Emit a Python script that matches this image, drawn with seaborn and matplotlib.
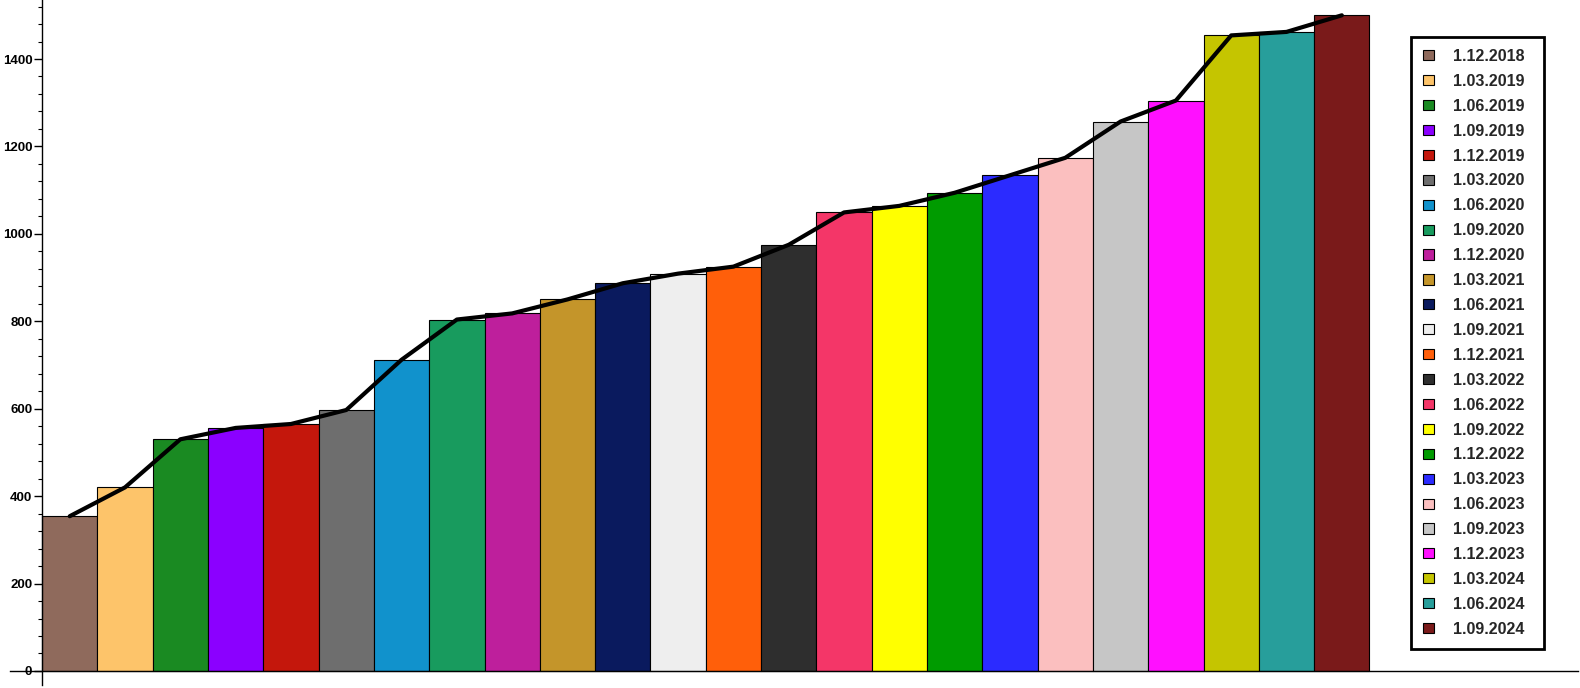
import numpy as np
import pandas as pd
import matplotlib
matplotlib.use("Agg")
import matplotlib.pyplot as plt
import seaborn as sns
from matplotlib.ticker import MultipleLocator

# Datoer (kvartaler) og værdier
dates = [
    "1.12.2018", "1.03.2019", "1.06.2019", "1.09.2019", "1.12.2019",
    "1.03.2020", "1.06.2020", "1.09.2020", "1.12.2020", "1.03.2021",
    "1.06.2021", "1.09.2021", "1.12.2021", "1.03.2022", "1.06.2022",
    "1.09.2022", "1.12.2022", "1.03.2023", "1.06.2023", "1.09.2023",
    "1.12.2023", "1.03.2024", "1.06.2024", "1.09.2024",
]
values = [
    354, 420, 530, 556, 565,
    597, 712, 804, 818, 850,
    887, 909, 925, 975, 1049,
    1064, 1094, 1134, 1174, 1257,
    1305, 1454, 1462, 1500,
]
colors = [
    "#8f6a5c", "#fdc46a", "#1a8a22", "#8b00ff", "#c4170c",
    "#6e6e6e", "#1192cc", "#189b5e", "#be1f9c", "#c4952a",
    "#0a1a5e", "#eeeeee", "#ff5f0a", "#2e2e2e", "#f43668",
    "#ffff00", "#009b00", "#2b2bff", "#fbbfbf", "#c6c6c6",
    "#ff10ff", "#c5c500", "#279e9b", "#7a1a1a",
]

sns.set_style("white")
plt.rcParams["font.family"] = ["Liberation Sans", "DejaVu Sans"]

df = pd.DataFrame({"date": dates, "value": values})

fig = plt.figure(figsize=(15.8, 6.88), dpi=100)
ax = fig.add_axes([10 / 1580, 0, 1568 / 1580, 1])

sns.barplot(
    data=df, x="date", y="value", hue="date", palette=colors,
    dodge=False, width=1.0, saturation=1, edgecolor="black",
    linewidth=0.8, ax=ax, legend=True,
)
# Kurve gennem søjlernes toppe
sns.lineplot(x=np.arange(len(values)), y=values, color="black",
             linewidth=3, ax=ax, legend=False)

ax.set_xlim(-1.08, 27.27)
ax.set_ylim(-39, 1535)
ax.set_xticks([])
ax.set_xlabel("")
ax.set_ylabel("")

for side in ["top", "right"]:
    ax.spines[side].set_visible(False)
ax.spines["left"].set_position(("data", -0.5))
ax.spines["left"].set_bounds(-32, 1535)
ax.spines["bottom"].set_position(("data", 0))
for side in ["left", "bottom"]:
    ax.spines[side].set_color("black")
    ax.spines[side].set_linewidth(1)

ax.yaxis.set_major_locator(MultipleLocator(200))
ax.yaxis.set_minor_locator(MultipleLocator(40))
ax.tick_params(axis="y", which="major", left=True, length=6, width=1,
               direction="out", labelsize=9.5, pad=1, colors="black")
ax.tick_params(axis="y", which="minor", left=True, length=3, width=0.8,
               direction="out", colors="black")
plt.setp(ax.get_yticklabels(), fontweight="bold")

leg = ax.legend(
    loc="upper left",
    bbox_to_anchor=(1411 / 1580, 1 - 641 / 688, 133 / 1580, 604 / 688),
    bbox_transform=fig.transFigure, mode="expand", borderaxespad=0,
    prop={"size": 11.5, "weight": "bold"},
    handlelength=0.7, handleheight=0.6, handletextpad=1.2,
    labelspacing=0.62, borderpad=0.75, fancybox=False, framealpha=1,
    edgecolor="black", title=None,
)
leg.get_frame().set_linewidth(2)
for h in leg.legend_handles:
    h.set_edgecolor("black")
    h.set_linewidth(0.8)

fig.savefig("out.png", dpi=100)
